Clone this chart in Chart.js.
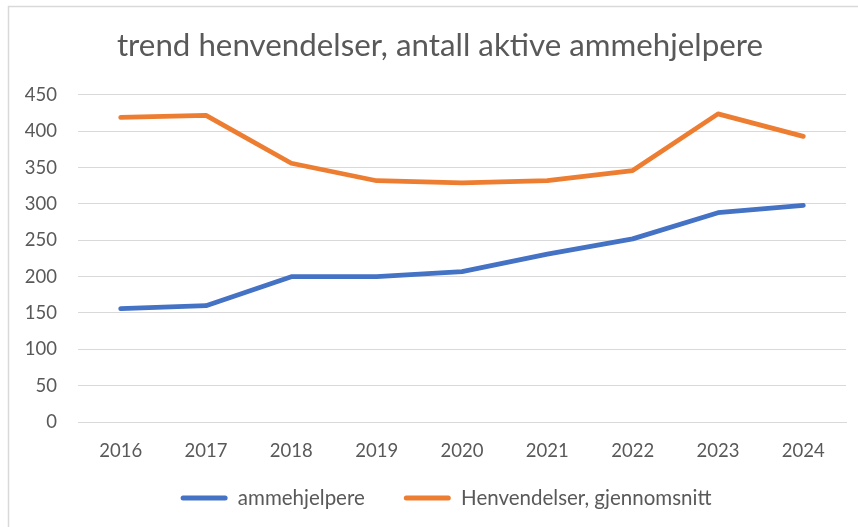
<!DOCTYPE html>
<html>
<head>
<meta charset="utf-8">
<script src="https://cdn.jsdelivr.net/npm/chart.js@4.4.1/dist/chart.umd.min.js"></script>
<style>
  html, body { margin: 0; padding: 0; background: #fff; }
  #wrap { position: absolute; left: 0; top: 0; width: 858px; height: 527px; }
</style>
</head>
<body>
<div id="wrap"><canvas id="c" width="858" height="527"></canvas></div>
<script>
const categories = ["2016", "2017", "2018", "2019", "2020", "2021", "2022", "2023", "2024"];
const ammehjelpere = [156, 160, 200, 200, 207, 231, 252, 288, 298];
const henvendelser = [419, 422, 356, 332, 329, 332, 346, 424, 393];
const seriesNames = ["ammehjelpere", "Henvendelser, gjennomsnitt"];
const titleText = "trend henvendelser, antall aktive ammehjelpere";

const FONT = "Lato, 'Open Sans', sans-serif";
const TXT = "#595959";

const borderPlugin = {
  id: 'outerBorder',
  beforeDraw(chart) {
    const ctx = chart.ctx;
    ctx.save();
    ctx.fillStyle = '#fff';
    ctx.fillRect(0, 0, chart.width, chart.height);
    ctx.strokeStyle = '#d9d9d9';
    ctx.lineWidth = 1.5;
    ctx.beginPath();
    ctx.moveTo(8.5, chart.height);
    ctx.lineTo(8.5, 6.5);
    ctx.lineTo(chart.width, 6.5);
    ctx.stroke();
    ctx.restore();
  }
};

const layoutTweak = {
  id: 'layoutTweak',
  afterLayout(chart) {
    if (chart.legend) { chart.legend.left += 23; chart.legend.right += 23; }
    if (chart.titleBlock) { chart.titleBlock.left += 17; chart.titleBlock.right += 17; }
    const x = chart.scales.x;
    x.bottom = x.top + 50;
  }
};

new Chart(document.getElementById('c'), {
  type: 'line',
  data: {
    labels: categories,
    datasets: [
      { label: seriesNames[0], data: ammehjelpere, borderColor: '#4472C4', backgroundColor: '#4472C4',
        borderWidth: 4.75, pointRadius: 0, tension: 0, borderCapStyle: 'round', borderJoinStyle: 'round' },
      { label: seriesNames[1], data: henvendelser, borderColor: '#ED7D31', backgroundColor: '#ED7D31',
        borderWidth: 4.75, pointRadius: 0, tension: 0, borderCapStyle: 'round', borderJoinStyle: 'round' }
    ]
  },
  options: {
    responsive: false,
    animation: false,
    layout: { padding: { left: 0, right: 12, top: 0, bottom: 8.75 } },
    plugins: {
      tooltip: { enabled: false },
      title: {
        display: true, text: titleText, color: TXT,
        font: { family: FONT, size: 31.3, weight: 'normal' },
        padding: { top: 26.7, bottom: 30.7 }
      },
      legend: {
        position: 'bottom',
        labels: {
          color: TXT, font: { family: FONT, size: 20.5 },
          boxWidth: 47, boxHeight: 5, padding: 39, useBorderRadius: true, borderRadius: 2.5,
          generateLabels(chart) {
            return chart.data.datasets.map((ds, i) => ({
              text: ds.label, fillStyle: ds.borderColor, strokeStyle: ds.borderColor,
              lineWidth: 0, hidden: false, datasetIndex: i, fontColor: TXT, borderRadius: 2.5
            }));
          }
        }
      }
    },
    scales: {
      x: {
        offset: true,
        grid: { display: false, drawTicks: false },
        border: { display: true, color: '#d9d9d9', width: 1 },
        ticks: { color: TXT, font: { family: FONT, size: 18.5 }, padding: 18 },
        afterFit(scale) { scale.height = 26.75; }
      },
      y: {
        min: 0, max: 450,
        grid: { color: '#d9d9d9', lineWidth: 1, drawTicks: false },
        border: { display: false },
        ticks: { stepSize: 50, color: TXT, font: { family: FONT, size: 18.5 }, padding: 21 },
        afterFit(scale) { scale.width = 78; }
      }
    }
  },
  plugins: [borderPlugin, layoutTweak]
});
</script>
</body>
</html>
